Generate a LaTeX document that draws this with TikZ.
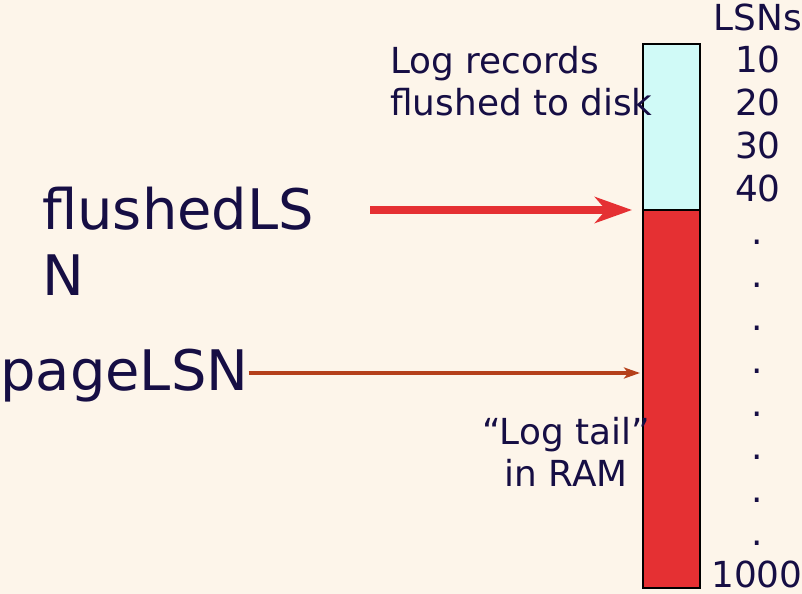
\documentclass[tikz,border=0pt]{standalone}
\usepackage{fontspec}
\setmainfont{DejaVu Sans}
\usetikzlibrary{arrows.meta}
\definecolor{bgcream}{RGB}{253,245,234}
\definecolor{inknavy}{RGB}{22,14,68}
\definecolor{tailred}{RGB}{229,48,51}
\definecolor{diskcyan}{RGB}{208,250,247}
\definecolor{pagebrown}{RGB}{181,64,26}

\begin{document}
\begin{tikzpicture}[
  x=0.02cm, y=-0.02cm,
  label/.style={text=inknavy, inner sep=0pt, font=\fontsize{20.4}{23.8}\selectfont},
  biglabel/.style={text=inknavy, inner sep=0pt, align=left, font=\fontsize{31.8}{37.4}\selectfont},
  lsn/.style={label, anchor=base},
  seg/.style={draw=black, line width=1.1pt},
  flusharrow/.style={draw=tailred, line width=4.5pt, -{Stealth[length=0.74cm, width=0.52cm, inset=0.22cm]}},
  pagearrow/.style={draw=pagebrown, line width=2pt, -{Stealth[length=0.32cm, width=0.22cm, inset=0.08cm]}}
]
  \fill[bgcream] (0,0) rectangle (802,594);
  \useasboundingbox (0,0) rectangle (802,594);

  \filldraw[seg, fill=diskcyan] (643,44) rectangle (700,210);
  \filldraw[seg, fill=tailred] (643,210) rectangle (700,588);

  \node[label, align=left, anchor=north west] (ondisk) at (390,46) {Log records\\flushed to disk};
  \node[label, align=center, anchor=north] (logtail) at (566,417) {“Log tail”\\in RAM};

  \node[biglabel, anchor=north west] (flushed) at (42,187) {flushedLS\\N};
  \node[biglabel, anchor=base west] (page) at (0,391) {pageLSN};

  \coordinate (flushtail) at (370,210);
  \coordinate (flushtip) at (632,210);
  \coordinate (pagetip) at (640,373);
  \draw[flusharrow] (flushtail) -- (flushtip);
  \draw[pagearrow] (page.east |- pagetip) -- (pagetip);

  \node[lsn] (lsnhead) at (758,31) {LSNs};
  \foreach \v [count=\i] in {10,20,30,40}
    \node[lsn] (lsn\v) at (758,30+43*\i) {\v};
  \foreach \i in {0,...,7}
    \node[lsn] (dot\i) at (757,245+43*\i) {.};
  \node[lsn] (lsnlast) at (757,588) {1000};
\end{tikzpicture}
\end{document}
